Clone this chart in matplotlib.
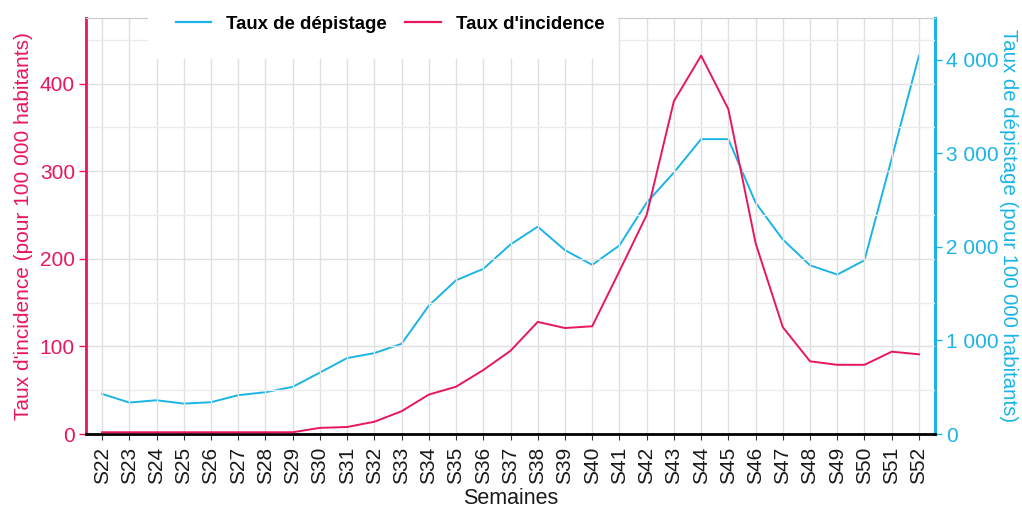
import matplotlib
matplotlib.use("Agg")
import matplotlib.pyplot as plt
from matplotlib.patches import Rectangle
from matplotlib.lines import Line2D
from matplotlib.ticker import FuncFormatter, MultipleLocator
import numpy as np

plt.rcParams['font.family'] = ['Liberation Sans', 'DejaVu Sans']

semaines = ["S%d" % i for i in range(22, 53)]
incidence = [2, 2, 2, 2, 2, 2, 2, 2, 7, 8, 14, 26, 45, 54, 73, 95, 128, 121, 123,
             186, 250, 380, 432, 371, 218, 122, 83, 79, 79, 94, 91]
depistage = [429, 336, 361, 325, 340, 415, 447, 504, 657, 812, 865, 965, 1373, 1644,
             1766, 2027, 2217, 1966, 1809, 2016, 2474, 2796, 3153, 3153, 2474, 2080,
             1804, 1705, 1858, 2946, 4046]

PINK = '#E8175D'
CYAN = '#1AB4E6'
FS = 15

fig = plt.figure(figsize=(10.22, 5.09), dpi=100)
ax = fig.add_axes([86/1022, 1-434/509, (935-86)/1022, (434-18)/509])
ax2 = ax.twinx()

x = np.arange(len(semaines))
ax.set_xlim(-0.59, len(semaines)-1+0.59)
ymax = 475
ax.set_ylim(0, ymax)
ratio = max(depistage)/max(incidence)
ax2.set_ylim(0, ymax*ratio)

# grid
ax.yaxis.set_major_locator(MultipleLocator(100))
ax.yaxis.set_minor_locator(MultipleLocator(50))
ax.set_xticks(x)
ax.set_xticklabels(semaines, rotation=90, fontsize=FS, color='#1a1a1a')
ax.grid(True, which='major', axis='both', color='#E0E0E0', lw=1.0, zorder=0)
ax.grid(True, which='minor', axis='y', color='#EBEBEB', lw=1.0, zorder=0)
ax.set_axisbelow(True)

ax2.plot(x, depistage, color=CYAN, lw=1.4, zorder=3)
ax.plot(x, incidence, color=PINK, lw=1.4, zorder=3)
ax.set_zorder(ax2.get_zorder()+1)
ax.patch.set_visible(False)

ax.tick_params(axis='y', which='major', colors=PINK, labelsize=FS, length=5, width=1, pad=3)
ax.tick_params(axis='y', which='minor', length=0)
ax.tick_params(axis='x', colors='#333333', labelcolor='#1a1a1a', length=4, width=0.8, pad=5)
ax2.yaxis.set_major_locator(MultipleLocator(1000))
ax2.yaxis.set_major_formatter(FuncFormatter(
    lambda v, p: ("%d" % v) if v < 1000 else "{:,}".format(int(v)).replace(",", " ")))
ax2.tick_params(axis='y', colors=CYAN, labelsize=FS, length=5, width=1, pad=3)

for a in (ax, ax2):
    a.spines['top'].set_color('#CCCCCC')
    a.spines['top'].set_linewidth(0.8)
ax.spines['left'].set_color(PINK)
ax.spines['left'].set_linewidth(2)
ax.spines['right'].set_visible(False)
ax2.spines['left'].set_visible(False)
ax2.spines['right'].set_color(CYAN)
ax2.spines['right'].set_linewidth(2.2)
ax.spines['bottom'].set_color('black')
ax.spines['bottom'].set_linewidth(2)
ax2.spines['bottom'].set_visible(False)

ax.set_ylabel("Taux d'incidence (pour 100 000 habitants)", color=PINK, fontsize=FS, labelpad=5)
ax2.set_ylabel("Taux de dépistage (pour 100 000 habitants)", color=CYAN, fontsize=14.7,
               rotation=270, labelpad=14)
ax.set_xlabel("Semaines", fontsize=15.5, color='#1a1a1a', labelpad=3)

# legend background
fig.patches.append(Rectangle((148/1022, 1-59/509), (618-148)/1022, 59/509,
                             transform=fig.transFigure, facecolor='white',
                             edgecolor='none', zorder=5))
handles = [Line2D([], [], color=CYAN, lw=1.6), Line2D([], [], color=PINK, lw=1.6)]
leg = fig.legend(handles, ["Taux de dépistage", "Taux d'incidence"], ncol=2,
                 loc='center', bbox_to_anchor=(390/1022, 1-24/509), frameon=False,
                 prop={'weight': 'bold', 'size': 13.4}, handlelength=1.9,
                 columnspacing=1.0, handletextpad=0.8)
leg.set_zorder(6)

fig.savefig("out.png", dpi=100)
